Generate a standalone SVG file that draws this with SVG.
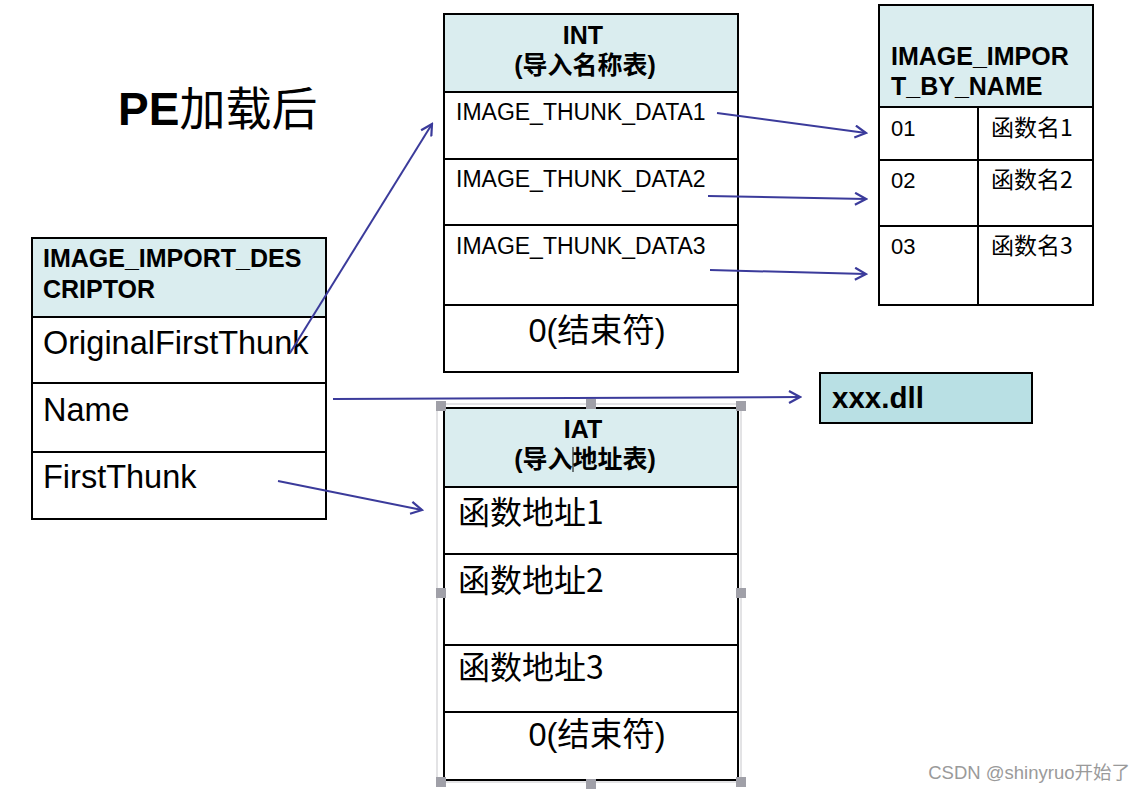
<svg xmlns="http://www.w3.org/2000/svg" width="1143" height="792" viewBox="0 0 1143 792">
<defs>
<marker id="arr" viewBox="0 0 14 14" refX="12" refY="7" markerWidth="14" markerHeight="14" markerUnits="userSpaceOnUse" orient="auto">
<path d="M1,1 L12,7 L1,13" fill="none" stroke="#3b3b9b" stroke-width="2.2"/>
</marker>
</defs>
<style>
.box{fill:#fff;stroke:#000;stroke-width:2}
.hdr{fill:#daedef;stroke:#000;stroke-width:2}
.ln{stroke:#000;stroke-width:2}
.hd{font-family:"Liberation Sans","Noto Sans CJK SC",sans-serif;font-weight:bold;font-size:25px;fill:#000}
.dl{font-family:"Liberation Sans",sans-serif;font-weight:bold;font-size:29.5px;fill:#000}
.t32{font-family:"Liberation Sans","Noto Sans CJK SC",sans-serif;font-size:32.5px;fill:#000}
.t23{font-family:"Liberation Sans","Noto Sans CJK SC",sans-serif;font-size:23px;fill:#000}
.t22{font-family:"Liberation Sans","Noto Sans CJK SC",sans-serif;font-size:22px;fill:#000}
.cjk32{font-family:"Noto Sans CJK SC",sans-serif;font-size:32px;fill:#000}
.cjk23{font-family:"Noto Sans CJK SC",sans-serif;font-size:23px;fill:#000}
.conn{stroke:#3b3b9b;stroke-width:2;fill:none;marker-end:url(#arr)}
.hdl{fill:#a0a0a8}
</style>
<rect width="1143" height="792" fill="#fff"/>

<g id="title">
<text x="118" y="125" font-family="Liberation Sans,sans-serif" font-weight="bold" font-size="46px">PE<tspan font-family="Noto Sans CJK SC,sans-serif" font-weight="normal" font-size="46px">加载后</tspan></text>
</g>

<g id="descriptor">
<rect class="box" x="32" y="238" width="294" height="281"/>
<rect class="hdr" x="32" y="238" width="294" height="79"/>
<line class="ln" x1="32" y1="383" x2="326" y2="383"/>
<line class="ln" x1="32" y1="452" x2="326" y2="452"/>
<text class="hd" x="43" y="267">IMAGE_IMPORT_DES</text>
<text class="hd" x="43" y="298">CRIPTOR</text>
<text class="t32" x="43" y="354">OriginalFirstThunk</text>
<text class="t32" x="43" y="421">Name</text>
<text class="t32" x="43" y="488">FirstThunk</text>
</g>

<g id="int">
<rect class="box" x="444" y="14" width="294" height="358"/>
<rect class="hdr" x="444" y="14" width="294" height="78"/>
<line class="ln" x1="444" y1="159" x2="738" y2="159"/>
<line class="ln" x1="444" y1="225" x2="738" y2="225"/>
<line class="ln" x1="444" y1="305" x2="738" y2="305"/>
<text class="hd" x="583" y="44" text-anchor="middle">INT</text>
<text class="hd" x="585" y="74" text-anchor="middle">(导入名称表)</text>
<text class="t23" x="456" y="120">IMAGE_THUNK_DATA1</text>
<text class="t23" x="456" y="187">IMAGE_THUNK_DATA2</text>
<text class="t23" x="456" y="254">IMAGE_THUNK_DATA3</text>
<text class="t32" x="597" y="342" text-anchor="middle">0(结束符)</text>
</g>

<g id="iat">
<rect x="437" y="404" width="304" height="378" fill="none" stroke="#c8c8cc" stroke-width="1"/>
<rect class="box" x="444" y="408" width="294" height="372"/>
<rect class="hdr" x="444" y="408" width="294" height="79"/>
<line class="ln" x1="444" y1="554" x2="738" y2="554"/>
<line class="ln" x1="444" y1="645" x2="738" y2="645"/>
<line class="ln" x1="444" y1="712" x2="738" y2="712"/>
<text class="hd" x="583" y="438" text-anchor="middle">IAT</text>
<text class="hd" x="585" y="468" text-anchor="middle">(导入地址表)</text>
<line x1="573" y1="447" x2="573" y2="472" stroke="#000" stroke-width="1"/>
<text class="cjk32" x="458" y="524">函数地址1</text>
<text class="cjk32" x="458" y="592">函数地址2</text>
<text class="cjk32" x="458" y="679">函数地址3</text>
<text class="t32" x="597" y="746" text-anchor="middle">0(结束符)</text>
<rect class="hdl" x="436" y="401" width="10" height="10"/>
<rect class="hdl" x="586" y="399" width="10" height="10"/>
<rect class="hdl" x="736" y="401" width="10" height="10"/>
<rect class="hdl" x="436" y="588" width="10" height="10"/>
<rect class="hdl" x="736" y="588" width="10" height="10"/>
<rect class="hdl" x="436" y="777" width="10" height="10"/>
<rect class="hdl" x="586" y="779" width="10" height="10"/>
<rect class="hdl" x="736" y="777" width="10" height="10"/>
</g>

<g id="by_name">
<rect class="box" x="879" y="5" width="214" height="300"/>
<rect class="hdr" x="879" y="5" width="214" height="102"/>
<line class="ln" x1="879" y1="160" x2="1093" y2="160"/>
<line class="ln" x1="879" y1="226" x2="1093" y2="226"/>
<line class="ln" x1="978" y1="107" x2="978" y2="305"/>
<text class="hd" x="891" y="65">IMAGE_IMPOR</text>
<text class="hd" x="891" y="95">T_BY_NAME</text>
<text class="t22" x="891" y="136">01</text>
<text class="t22" x="891" y="188">02</text>
<text class="t22" x="891" y="254">03</text>
<text class="cjk23" x="991" y="136">函数名1</text>
<text class="cjk23" x="991" y="188">函数名2</text>
<text class="cjk23" x="991" y="254">函数名3</text>
</g>

<g id="dll">
<rect x="820" y="373" width="212" height="50" fill="#b9e0e4" stroke="#000" stroke-width="2"/>
<text class="dl" x="832" y="408">xxx.dll</text>
</g>

<g id="connectors">
<line class="conn" x1="290" y1="353" x2="432" y2="124"/>
<line class="conn" x1="333" y1="399" x2="800" y2="397"/>
<line class="conn" x1="278" y1="481" x2="422" y2="510"/>
<line class="conn" x1="717" y1="113" x2="866" y2="133"/>
<line class="conn" x1="708" y1="196" x2="866" y2="199"/>
<line class="conn" x1="710" y1="270" x2="866" y2="274"/>
</g>

<g id="watermark">
<text x="1130" y="779" text-anchor="end" font-family="Liberation Sans,Noto Sans CJK SC,sans-serif" font-size="18.5px" fill="#9a9a9a">CSDN @shinyruo开始了</text>
</g>
</svg>
